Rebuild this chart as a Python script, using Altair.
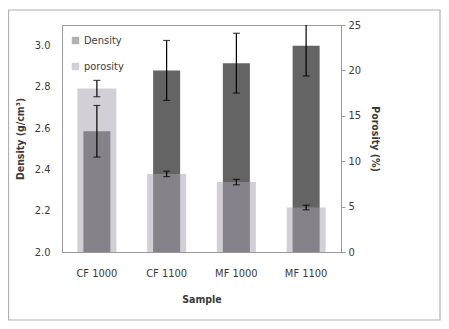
import altair as alt
import pandas as pd

samples = ["CF 1000", "CF 1100", "MF 1000", "MF 1100"]
density = [2.585, 2.88, 2.915, 3.00]
density_err = [0.125, 0.145, 0.145, 0.147]
porosity = [18.0, 8.6, 7.7, 4.9]
porosity_err = [0.9, 0.3, 0.3, 0.25]

df = pd.DataFrame({
    "sample": samples,
    "density": density,
    "density_err": density_err,
    "porosity": porosity,
    "porosity_err": porosity_err,
})

FONT = "DejaVu Sans Condensed, Liberation Sans Narrow, Liberation Sans"
TXT = "#3a3a3a"

base = alt.Chart(df).transform_calculate(
    dlo="datum.density - datum.density_err",
    dhi="datum.density + datum.density_err",
    plo="datum.porosity - datum.porosity_err",
    phi="datum.porosity + datum.porosity_err",
)

x = alt.X(
    "sample:N", sort=samples,
    scale=alt.Scale(paddingInner=0, paddingOuter=0),
    axis=alt.Axis(title="Sample", labelAngle=0, ticks=False, domain=False,
                  labelPadding=15, titlePadding=16),
)

dscale = alt.Scale(domain=[2.0, 3.1], nice=False, zero=False)
pscale = alt.Scale(domain=[0, 25], nice=False)
cscale = alt.Scale(domain=["Density", "porosity"], range=["#646464", "#a8a0b0"])

frame = alt.Chart(pd.DataFrame({"k": [0]})).mark_rect(
    fill=None, stroke="#b0b0b0", strokeWidth=1.2
).encode(x=alt.value(-53.5), x2=alt.value(378), y=alt.value(-15), y2=alt.value(295))

dens_bar = base.transform_calculate(s="'Density'").mark_bar(size=27).encode(
    x=x,
    y=alt.Y("density:Q", scale=dscale,
            axis=alt.Axis(orient="left", values=[2.0, 2.2, 2.4, 2.6, 2.8, 3.0],
                          format=".1f", title="Density (g/cm³)", ticks=False,
                          domain=False, grid=False, labelPadding=12, titlePadding=9)),
    y2=alt.datum(2.0),
    color=alt.Color("s:N", scale=cscale, legend=alt.Legend(
        title=None, orient="none", legendX=8, legendY=10, symbolType="square",
        symbolSize=55, rowPadding=14, labelFontSize=11, labelFont=FONT,
        labelColor=TXT, symbolStrokeWidth=0, labelOffset=3)),
)

poros_bar = base.transform_calculate(s="'porosity'").mark_bar(size=39, opacity=0.5).encode(
    x=x,
    y=alt.Y("porosity:Q", scale=pscale,
            axis=alt.Axis(orient="right", values=[0, 5, 10, 15, 20, 25],
                          title="Porosity (%)", ticks=True, tickSize=4,
                          tickColor="#999999", domain=False, grid=False,
                          labelPadding=3, titlePadding=9)),
    color=alt.Color("s:N", scale=cscale),
)

poros_err = base.mark_errorbar(ticks={"size": 7}, color="black", thickness=1.2).encode(
    x=x,
    y=alt.Y("plo:Q", scale=pscale, axis=None, title=None),
    y2="phi:Q",
)

dens_err = base.mark_errorbar(ticks={"size": 7}, color="black", thickness=1.2, clip=True).encode(
    x=x,
    y=alt.Y("dlo:Q", scale=dscale, axis=None, title=None),
    y2="dhi:Q",
)

chart = alt.layer(frame, dens_bar, poros_bar, poros_err, dens_err).resolve_scale(
    y="independent"
).properties(
    width=279, height=227,
    autosize=alt.AutoSizeParams(type="none"),
    padding={"left": 54, "top": 17, "right": 100, "bottom": 69},
).configure_view(
    stroke="#9a9a9a", strokeWidth=1
).configure_axis(
    labelFont=FONT, titleFont=FONT, labelFontSize=11, titleFontSize=10.5,
    labelColor=TXT, titleColor=TXT, titleFontWeight="bold",
)

chart.save("out.html", embed_options={"renderer": "svg", "actions": False})
